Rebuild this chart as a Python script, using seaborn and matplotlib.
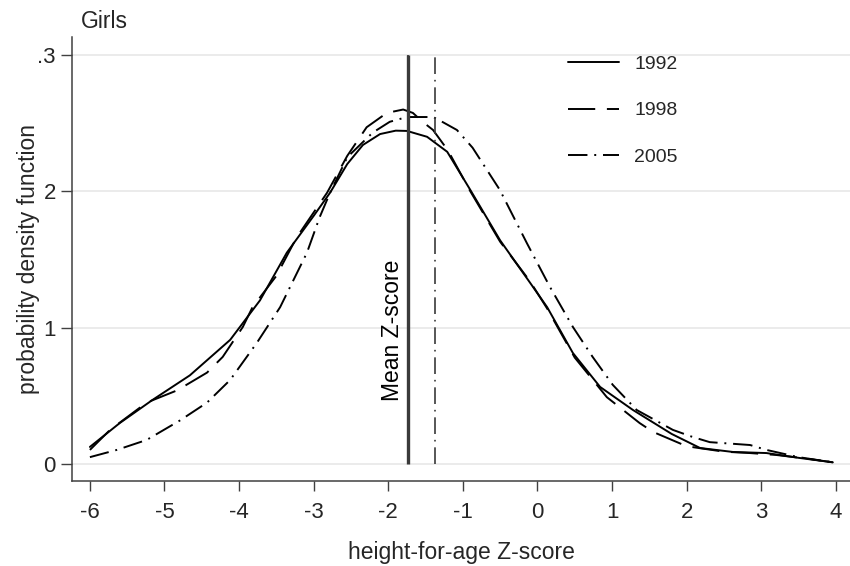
import numpy as np
import pandas as pd
import matplotlib
matplotlib.use("Agg")
import matplotlib.pyplot as plt
import seaborn as sns

# ---- data ----
years = ["1992", "1998", "2005"]

x_1992 = [-6.0, -5.6, -5.16, -4.66, -4.12, -3.72, -3.36, -3.0, -2.78, -2.55, -2.34, -2.11, -1.9, -1.75,
          -1.48, -1.21, -0.9, -0.5, -0.1, 0.13, 0.475, 0.84, 1.28, 1.8, 2.18, 2.62, 3.07, 3.5, 3.96]
y_1992 = [0.0125, 0.030, 0.047, 0.065, 0.091, 0.120, 0.155, 0.182, 0.199, 0.220, 0.234, 0.242, 0.2445, 0.2443,
          0.240, 0.229, 0.201, 0.164, 0.133, 0.115, 0.0814, 0.0565, 0.0396, 0.022, 0.0117, 0.0088, 0.008, 0.0045, 0.0012]

x_1998 = [-6.0, -5.73, -5.24, -4.83, -4.43, -4.22, -3.95, -3.82, -3.5, -3.23, -2.82, -2.55, -2.29, -2.02,
          -1.80, -1.67, -1.54, -1.40, -1.2, -0.9, -0.5, -0.1, 0.13, 0.5, 0.93, 1.37, 1.55, 2.0, 2.5, 2.85,
          3.2, 3.6, 3.96]
y_1998 = [0.0103, 0.025, 0.045, 0.054, 0.067, 0.0785, 0.1005, 0.115, 0.138, 0.166, 0.199, 0.226, 0.247, 0.2575,
          0.260, 0.2575, 0.251, 0.245, 0.230, 0.200, 0.163, 0.134, 0.114, 0.078, 0.049, 0.030, 0.0235, 0.013,
          0.009, 0.008, 0.0066, 0.004, 0.0012]

x_2005 = [-6.0, -5.64, -5.24, -4.79, -4.43, -4.12, -3.76, -3.45, -3.09, -2.92, -2.78, -2.55, -2.21, -1.98,
          -1.75, -1.40, -1.31, -1.08, -0.87, -0.504, -0.142, 0.166, 0.475, 0.74, 1.01, 1.33, 1.815, 2.08,
          2.31, 2.85, 3.07, 3.5, 3.96]
y_2005 = [0.005, 0.0103, 0.0176, 0.032, 0.045, 0.0616, 0.089, 0.115, 0.155, 0.181, 0.199, 0.225, 0.243, 0.251,
          0.2545, 0.2545, 0.252, 0.245, 0.232, 0.201, 0.162, 0.130, 0.1005, 0.0785, 0.058, 0.0396, 0.025,
          0.0198, 0.016, 0.0139, 0.0103, 0.005, 0.0012]

mean_z = [-1.74, -1.74, -1.38]

x_ticks = [-6, -5, -4, -3, -2, -1, 0, 1, 2, 3, 4]
x_tick_labels = ["-6", "-5", "-4", "-3", "-2", "-1", "0", "1", "2", "3", "4"]
y_ticks = [0, 0.1, 0.2, 0.3]
y_tick_labels = ["0", "1", "2", ".3"]

# ---- build long-form table ----
df = pd.concat([
    pd.DataFrame({"z": x_1992, "density": y_1992, "year": "1992"}),
    pd.DataFrame({"z": x_1998, "density": y_1998, "year": "1998"}),
    pd.DataFrame({"z": x_2005, "density": y_2005, "year": "2005"}),
], ignore_index=True)

sns.set_style("white")
plt.rcParams["font.family"] = ["Liberation Sans", "DejaVu Sans"]

fig = plt.figure(figsize=(8.5, 5.66), dpi=100)
ax = fig.add_axes([72 / 850, 1 - 481 / 566, 778 / 850, 444 / 566])

dash_map = {"1992": "", "1998": (14, 6), "2005": (10, 3.5, 1, 3.5)}
sns.lineplot(data=df, x="z", y="density", hue="year", style="year",
             hue_order=years, style_order=years,
             palette={y: "black" for y in years}, dashes=dash_map,
             sort=False, estimator=None, linewidth=1.4, ax=ax)

# mean lines
ax.vlines(mean_z[1], 0, 0.3, colors="#3a3a3a", linewidth=1.2, linestyles=(0, (14, 6)), zorder=3)
ax.vlines(mean_z[0], 0, 0.3, colors="#3a3a3a", linewidth=2.4, zorder=4)
ax.vlines(mean_z[2], 0, 0.3, colors="#3a3a3a", linewidth=1.2, linestyles=(0, (10, 3.5, 1, 3.5)), zorder=4)
ax.text(-1.94, 0.098, "Mean Z-score", rotation=90, ha="center", va="center", fontsize=16.5, color="black")

ax.set_xlim(-6.24, 4.19)
ax.set_ylim(-0.0125, 0.3132)
ax.set_xticks(x_ticks)
ax.set_xticklabels(x_tick_labels)
ax.set_yticks(y_ticks)
ax.set_yticklabels(y_tick_labels)
ax.yaxis.grid(True, color="#e6e6e6", linewidth=1.1)
ax.xaxis.grid(False)
ax.set_axisbelow(True)

for s in ["top", "right"]:
    ax.spines[s].set_visible(False)
for s in ["left", "bottom"]:
    ax.spines[s].set_color("#404040")
    ax.spines[s].set_linewidth(1.1)

ax.tick_params(axis="x", direction="out", length=7, width=1, color="#404040", pad=8, labelsize=16)
ax.tick_params(axis="y", direction="out", length=8, width=1, color="#404040", pad=3.6, labelsize=16)
ax.tick_params(bottom=True, left=True)

ax.set_xlabel("height-for-age Z-score", fontsize=16.5)
ax.set_ylabel("probability density function", fontsize=16.5)
ax.xaxis.set_label_coords(0.5, -0.135)
ax.yaxis.set_label_coords(-0.041, 0.5)

fig.text(81 / 850, 1 - 28 / 566, "Girls", fontsize=16.5, ha="left", va="baseline")

handles, labels = ax.get_legend_handles_labels()
leg = ax.legend(handles, labels, frameon=False, loc="upper left",
                bbox_to_anchor=(568 / 850, 1 - 55 / 566), bbox_transform=fig.transFigure,
                fontsize=14, handlelength=2.6, handletextpad=0.8, labelspacing=1.5,
                borderpad=0, borderaxespad=0)

fig.savefig("out.png", dpi=100)
